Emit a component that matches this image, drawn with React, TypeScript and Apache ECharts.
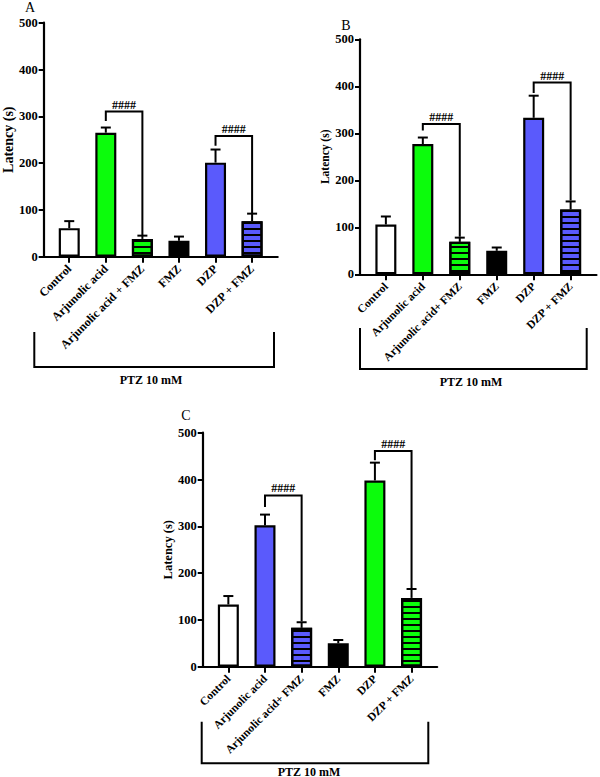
import React, { useEffect, useRef } from "react";
import * as echarts from "echarts";

// Categories per panel
const catsA = ["Control", "Arjunolic acid", "Arjunolic acid + FMZ", "FMZ", "DZP", "DZP + FMZ"];
const catsB = ["Control", "Arjunolic acid", "Arjunolic acid+ FMZ", "FMZ", "DZP", "DZP + FMZ"];
const catsC = ["Control", "Arjunolic acid", "Arjunolic acid+ FMZ", "FMZ", "DZP", "DZP + FMZ"];

// Mean latency (s) and SEM
const meanA = [61, 265, 38, 34, 201, 76];
const semA = [15, 11, 7, 9, 28, 16];
const meanB = [106, 277, 69, 50, 333, 138];
const semB = [17, 14, 9, 7, 47, 17];
const meanC = [133, 302, 83, 50, 398, 147];
const semC = [18, 23, 12, 7, 38, 19];

// Fill style of each bar
const fillA = ["white", "green", "greenHatch", "black", "blue", "blueHatch"];
const fillB = ["white", "green", "greenHatch", "black", "blue", "blueHatch"];
const fillC = ["white", "blue", "blueHatch", "black", "green", "greenHatch"];

// Significance brackets: [leftIdx, rightIdx, top, leftLegEnd, rightLegEnd]
const bracketsA = [[1, 2, 310, 290, 46], [4, 5, 258, 237, 93]];
const bracketsB = [[1, 2, 320, 306, 80], [4, 5, 408, 386, 157]];
const bracketsC = [[1, 2, 366, 341, 97], [4, 5, 461, 441, 166]];
const sigLabel = "####";

const yTicks = { min: 0, max: 500, interval: 100 };
const groupLabel = "PTZ 10 mM";
const FONT = "Liberation Serif, Times New Roman, serif";

const GREEN = "#0cfc0c";
const BLUE = "#5a5afc";

const hatch = {
  symbol: "rect",
  symbolSize: 1,
  dashArrayX: [1, 0],
  dashArrayY: [1.6, 3.2],
  rotation: 0,
  color: "#000",
};

function styleFor(kind: string) {
  const base: any = { borderColor: "#000", borderWidth: 2.2 };
  if (kind === "white") return { ...base, color: "#fff" };
  if (kind === "black") return { ...base, color: "#000" };
  if (kind === "green") return { ...base, color: GREEN };
  if (kind === "blue") return { ...base, color: BLUE };
  if (kind === "greenHatch") return { ...base, color: GREEN, decal: hatch };
  if (kind === "blueHatch") return { ...base, color: BLUE, decal: hatch };
  return base;
}

const idx = [0, 1, 2, 3, 4, 5];

function panelAxes(i: number, cats: string[], nameGap: number, nameSize: number, catSize: number) {
  const xAxis = {
    type: "value",
    gridIndex: i,
    min: -0.7,
    max: 5.7,
    axisLine: { show: true, onZero: false, lineStyle: { color: "#000", width: 2.2 } },
    axisTick: { show: true, customValues: idx, length: 6, lineStyle: { color: "#000", width: 2 } },
    axisLabel: {
      show: true,
      customValues: idx,
      rotate: 45,
      margin: 10,
      color: "#000",
      fontFamily: FONT,
      fontWeight: "bold",
      fontSize: catSize,
      formatter: (v: number) => cats[Math.round(v)] ?? "",
    },
    splitLine: { show: false },
  };
  const yAxis = {
    type: "value",
    gridIndex: i,
    ...yTicks,
    name: "Latency (s)",
    nameLocation: "middle",
    nameGap,
    nameTextStyle: { color: "#000", fontFamily: FONT, fontWeight: "bold", fontSize: nameSize },
    axisLine: { show: true, onZero: false, lineStyle: { color: "#000", width: 2.2 } },
    axisTick: { show: true, length: 5, lineStyle: { color: "#000", width: 2 } },
    axisLabel: { color: "#000", fontFamily: FONT, fontWeight: "bold", fontSize: 12.5, margin: 6 },
    splitLine: { show: false },
  };
  return { xAxis, yAxis };
}

function panelSeries(i: number, mean: number[], sem: number[], fill: string[], brackets: number[][]) {
  const bars = {
    type: "bar",
    xAxisIndex: i,
    yAxisIndex: i,
    barWidth: 21,
    z: 2,
    data: mean.map((m, k) => ({ value: [k, m], itemStyle: styleFor(fill[k]) })),
  };
  const errors = {
    type: "custom",
    xAxisIndex: i,
    yAxisIndex: i,
    z: 3,
    encode: { x: 0, y: 1 },
    data: mean.map((m, k) => [k, m, sem[k]]),
    renderItem: (_p: any, api: any) => {
      const x = api.value(0);
      const m = api.value(1);
      const e = api.value(2);
      const p0 = api.coord([x, m]);
      const p1 = api.coord([x, m + e]);
      const ls = { stroke: "#000", lineWidth: 2 };
      return {
        type: "group",
        children: [
          { type: "line", shape: { x1: p0[0], y1: p0[1], x2: p1[0], y2: p1[1] }, style: ls },
          { type: "line", shape: { x1: p1[0] - 5, y1: p1[1], x2: p1[0] + 5, y2: p1[1] }, style: ls },
        ],
      };
    },
  };
  const sig = {
    type: "custom",
    xAxisIndex: i,
    yAxisIndex: i,
    z: 4,
    encode: { x: [0, 1], y: [2, 3, 4] },
    data: brackets,
    renderItem: (_p: any, api: any) => {
      const x1 = api.value(0);
      const x2 = api.value(1);
      const top = api.value(2);
      const a = api.coord([x1, api.value(3)]);
      const b = api.coord([x1, top]);
      const c = api.coord([x2, top]);
      const d = api.coord([x2, api.value(4)]);
      return {
        type: "group",
        children: [
          {
            type: "polyline",
            shape: { points: [a, b, c, d] },
            style: { stroke: "#000", lineWidth: 2, fill: null },
          },
          {
            type: "text",
            x: (b[0] + c[0]) / 2,
            y: b[1] - 1,
            style: {
              text: sigLabel,
              fill: "#000",
              font: `bold 12px ${FONT}`,
              align: "center",
              verticalAlign: "bottom",
            },
          },
        ],
      };
    },
  };
  return [bars, errors, sig];
}

function groupBracket(left: number, right: number, top: number, bottom: number, cx: number, ty: number) {
  return [
    {
      type: "polyline",
      shape: { points: [[left, top], [left, bottom], [right, bottom], [right, top]] },
      style: { stroke: "#000", lineWidth: 2, fill: null },
    },
    {
      type: "text",
      x: cx,
      y: ty,
      style: {
        text: groupLabel,
        fill: "#000",
        font: `bold 12px ${FONT}`,
        align: "center",
        verticalAlign: "middle",
      },
    },
  ];
}

function panelLetter(t: string, x: number, y: number) {
  return {
    type: "text",
    x,
    y,
    style: { text: t, fill: "#000", font: `14px ${FONT}`, align: "center", verticalAlign: "middle" },
  };
}

export default function App() {
  const ref = useRef<HTMLDivElement>(null);
  useEffect(() => {
    if (!ref.current) return;
    const chart = echarts.init(ref.current, null, { renderer: "svg" });
    const a = panelAxes(0, catsA, 25, 14, 12);
    const b = panelAxes(1, catsB, 27, 11.5, 11.5);
    const c = panelAxes(2, catsC, 28, 12.5, 11.5);
    chart.setOption({
      animation: false,
      backgroundColor: "#fff",
      grid: [
        { left: 42.7, top: 22.7, width: 235, height: 234 },
        { left: 360, top: 39.3, width: 236.5, height: 235 },
        { left: 202.7, top: 432.7, width: 234.5, height: 234 },
      ],
      xAxis: [a.xAxis, b.xAxis, c.xAxis],
      yAxis: [a.yAxis, b.yAxis, c.yAxis],
      series: [
        ...panelSeries(0, meanA, semA, fillA, bracketsA),
        ...panelSeries(1, meanB, semB, fillB, bracketsB),
        ...panelSeries(2, meanC, semC, fillC, bracketsC),
      ],
      graphic: [
        panelLetter("A", 30, 7),
        panelLetter("B", 346, 25),
        panelLetter("C", 186, 415),
        ...groupBracket(34.3, 274, 332, 367, 151, 380),
        ...groupBracket(360, 586.7, 328, 369, 471, 382),
        ...groupBracket(201.7, 428.3, 721.7, 763.3, 309, 771.5),
      ],
    });
    return () => chart.dispose();
  }, []);
  return (
    <div
      ref={ref}
      style={{ position: "absolute", left: 0, top: 0, width: 600, height: 777, background: "#fff" }}
    />
  );
}
